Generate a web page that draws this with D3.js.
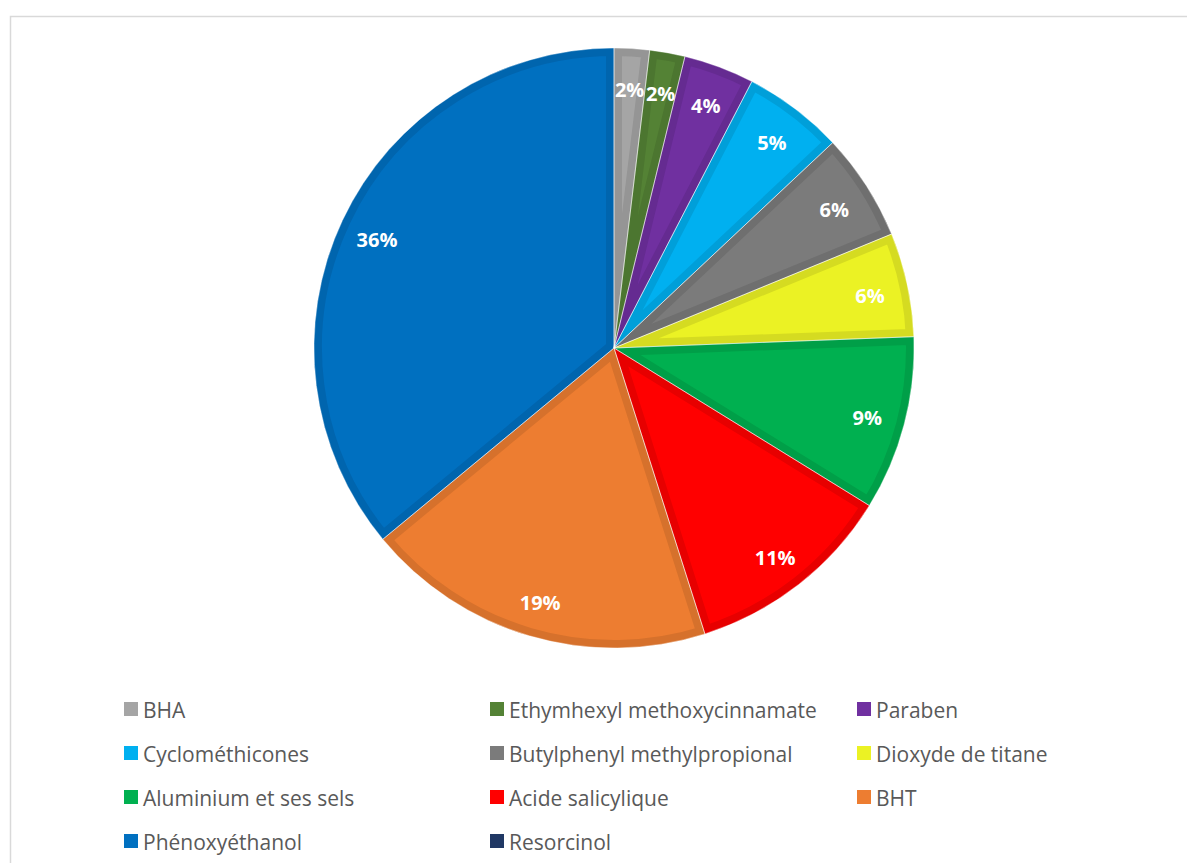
<!DOCTYPE html>
<html>
<head>
<meta charset="utf-8">
<script src="https://cdn.jsdelivr.net/npm/d3@7"></script>
<style>
  html, body { margin: 0; padding: 0; background: #fff; }
  svg { display: block; }
</style>
</head>
<body>
<svg id="chart" width="1187" height="863"></svg>
<script>
// ---- data ----
const categories = [
  "BHA",
  "Ethymhexyl methoxycinnamate",
  "Paraben",
  "Cyclométhicones",
  "Butylphenyl methylpropional",
  "Dioxyde de titane",
  "Aluminium et ses sels",
  "Acide salicylique",
  "BHT",
  "Phénoxyéthanol",
  "Resorcinol"
];
const values = [1.9, 1.9, 3.8, 5.4, 5.8, 5.6, 9.4, 11.3, 18.9, 36.0, 0];
const colors = [
  "#a5a5a5", "#548235", "#7030a0", "#00b0f0", "#7b7b7b",
  "#ebf224", "#00b050", "#ff0000", "#ed7d31", "#0070c0", "#203864"
];

const data = categories.map((c, i) => ({ name: c, value: values[i], color: colors[i], i }));

const svg = d3.select("#chart");
const W = 1187, H = 863;

// chart frame
svg.append("rect")
  .attr("x", 10.5).attr("y", 16.5)
  .attr("width", W + 20).attr("height", H + 20)
  .attr("fill", "#fff")
  .attr("stroke", "#d9d9d9").attr("stroke-width", 1.5);

const cx = 614, cy = 348, R = 300;
const total = d3.sum(values);

const pie = d3.pie().sort(null).value(d => d.value);
const arcs = pie(data);
const arc = d3.arc().innerRadius(0).outerRadius(R);
const labelArc = d3.arc().innerRadius(R * 0.873).outerRadius(R * 0.873);

const g = svg.append("g").attr("transform", `translate(${cx},${cy})`);
const defs = svg.append("defs");

arcs.forEach((a, k) => {
  if (a.data.value <= 0) return;
  const id = "clip" + k;
  defs.append("clipPath").attr("id", id)
    .append("path").attr("d", arc(a));
  const sg = g.append("g").attr("clip-path", `url(#${id})`);
  sg.append("path")
    .attr("d", arc(a))
    .attr("fill", a.data.color)
    .attr("stroke", d3.color(a.data.color).darker(0.28))
    .attr("stroke-width", 16)
    .attr("stroke-linejoin", "miter");
});

// thin separators
g.selectAll("path.sep")
  .data(arcs.filter(a => a.data.value > 0))
  .join("path")
  .attr("class", "sep")
  .attr("d", arc)
  .attr("fill", "none")
  .attr("stroke", "#ffffff")
  .attr("stroke-opacity", 0.55)
  .attr("stroke-width", 0.8);

// labels
const fmt = d3.format(".0%");
g.selectAll("text.lbl")
  .data(arcs.filter(a => a.data.value > 0))
  .join("text")
  .attr("class", "lbl")
  .attr("transform", d => { const c = labelArc.centroid(d); return `translate(${c[0]},${c[1] + 3})`; })
  .attr("text-anchor", "middle")
  .attr("dominant-baseline", "central")
  .attr("font-family", "'Open Sans', 'Liberation Sans', sans-serif")
  .attr("font-weight", "bold")
  .attr("font-size", 20)
  .attr("fill", "#ffffff")
  .text(d => fmt(d.data.value / total));

// legend
const colX = [124, 490, 857];
const rowY = [709, 753, 797, 841];
const legend = svg.append("g");
data.forEach((d, i) => {
  const col = i % 3, row = Math.floor(i / 3);
  const lg = legend.append("g").attr("transform", `translate(${colX[col]},${rowY[row]})`);
  lg.append("rect")
    .attr("x", 0).attr("y", -7).attr("width", 14).attr("height", 14)
    .attr("fill", d.color);
  lg.append("text")
    .attr("x", 19).attr("y", 1)
    .attr("dominant-baseline", "central")
    .attr("font-family", "'Open Sans', 'Liberation Sans', sans-serif")
    .attr("font-size", 21)
    .attr("fill", "#595959")
    .text(d.name);
});
</script>
</body>
</html>
